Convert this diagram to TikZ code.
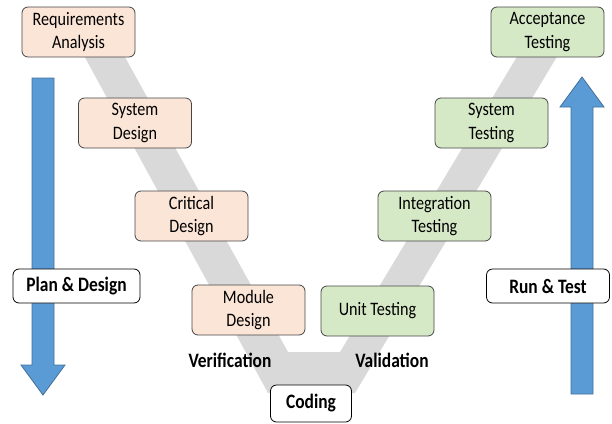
\documentclass[tikz,border=0pt]{standalone}
\usepackage{fontspec}
\setmainfont{Carlito}[FakeStretch=0.85]
\usepackage{tikz}
\usetikzlibrary{positioning,calc}
\definecolor{designPeach}{RGB}{251,229,214}
\definecolor{testGreen}{RGB}{214,233,198}
\definecolor{vBand}{RGB}{217,217,217}
\definecolor{flowBlue}{RGB}{91,155,213}
\definecolor{flowEdge}{RGB}{65,113,156}
\definecolor{boxEdge}{RGB}{70,70,70}

\begin{document}
\begin{tikzpicture}[x=1pt, y=-1pt,
  every node/.style={font=\fontsize{19}{23.5}\selectfont},
  stage/.style={draw=boxEdge, thick, rounded corners=6pt, align=center,
    minimum width=113pt, minimum height=50pt, inner sep=1pt},
  design/.style={stage, fill=designPeach},
  testing/.style={stage, fill=testGreen},
  phase/.style={font=\fontsize{20.5}{22}\selectfont\bfseries},
  tag/.style={phase, draw=black, thick, fill=white, rounded corners=6pt,
    inner sep=2pt},
  bigarrow/.style={draw=flowEdge, fill=flowBlue, line width=0.8pt}]
  \useasboundingbox (0,0) rectangle (612,423);

  % V shaped band behind the stages
  \fill[vBand] (70,30) -- (110,30) -- (288,352) -- (340,352) -- (533,30)
    -- (573,30) -- (355,393) -- (268,393) -- cycle;

  % Side arrows
  \draw[bigarrow] (32,78) -- (54,78) -- (54,365) -- (65,365) -- (43,395)
    -- (21,365) -- (32,365) -- cycle;
  \draw[bigarrow] (571,394) -- (593,394) -- (593,107) -- (604,107)
    -- (582,77) -- (560,107) -- (571,107) -- cycle;

  % Left arm: design stages
  \node[design] (req) at (78.5,32) {Requirements\\Analysis};
  \node[design] (sysdes) at (135,123) {System\\Design};
  \node[design] (crit) at (191.5,216) {Critical\\Design};
  \node[design] (mod) at (248.5,310) {Module\\Design};

  % Right arm: testing stages
  \node[testing] (unit) at (377.5,311) {Unit Testing};
  \node[testing] (integ) at (434.5,216) {Integration\\Testing};
  \node[testing] (systest) at (491.5,123) {System\\Testing};
  \node[testing] (accept) at (547.5,32) {Acceptance\\Testing};

  % Bottom of the V
  \node[tag, minimum width=81pt, minimum height=37pt] (coding) at (311,403.5) {Coding};
  \node[phase] (verif) at (230,360) {Verification};
  \node[phase] (valid) at (392,360) {Validation};

  % Phase labels on the arrows
  \node[tag, minimum width=127pt, minimum height=34pt] (plan) at (76.5,286) {Plan \& Design};
  \node[tag, minimum width=123pt, minimum height=34pt] (run) at (548,286) {Run \& Test};
\end{tikzpicture}
\end{document}
